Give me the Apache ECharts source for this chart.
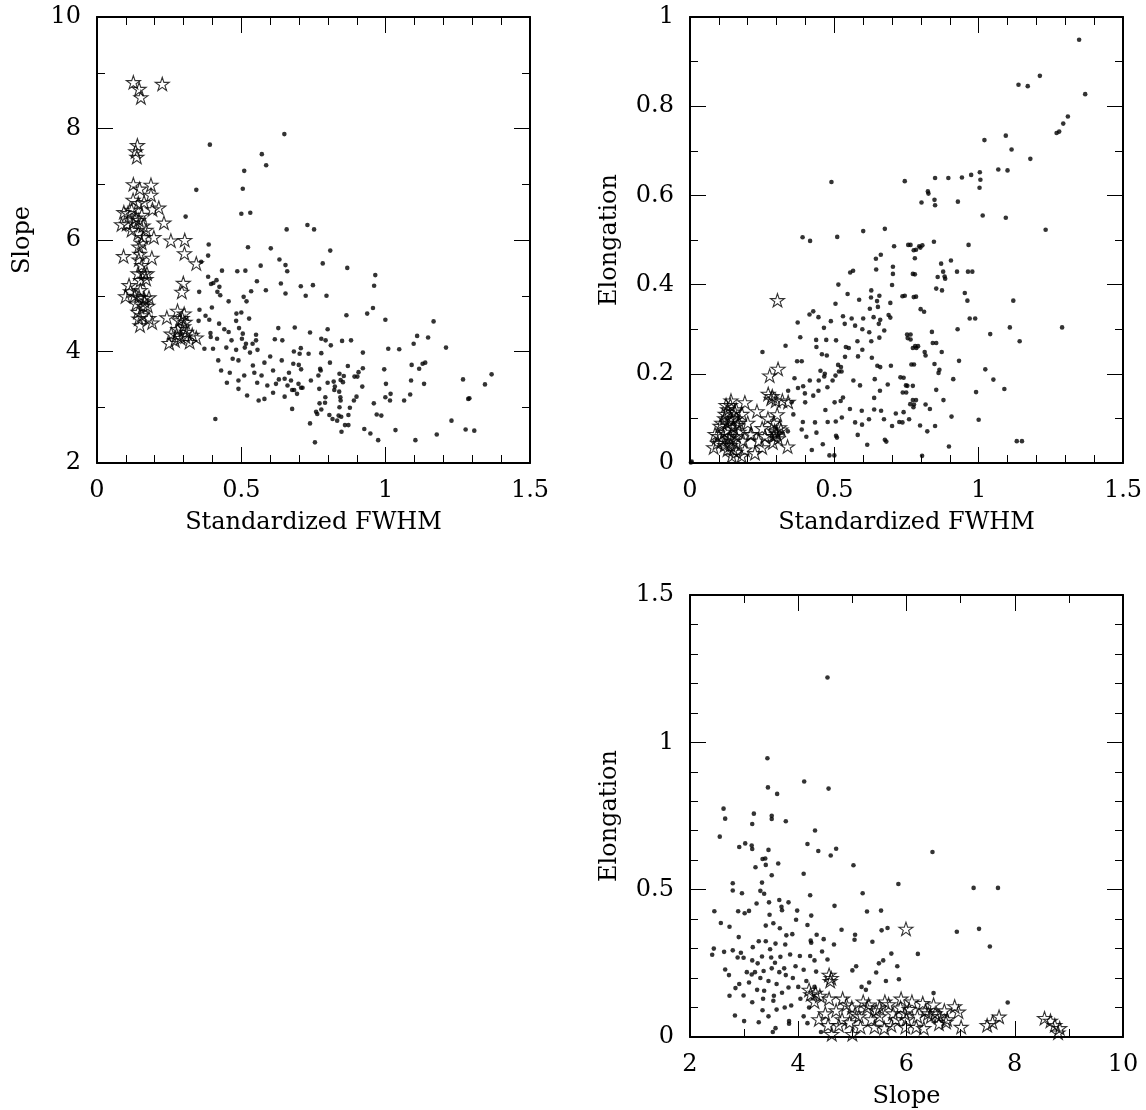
<!DOCTYPE html>
<html>
<head>
<meta charset="utf-8">
<script src="https://cdn.jsdelivr.net/npm/echarts@6/dist/echarts.min.js"></script>
<style>
html,body{margin:0;padding:0;background:#fff;}
#chart{width:1146px;height:1110px;}
</style>
</head>
<body>
<div id="chart"></div>
<script>
// ---------- DATA ----------
// Panel 1: Standardized FWHM (x) vs Slope (y)
const fwhmSlopeDots = [[0.729,6.27],[0.752,6.19],[0.808,5.81],[0.782,5.58],[0.867,5.50],[0.706,5.17],[0.748,5.19],[0.723,5.00],[0.795,5.00],[0.964,5.37],[0.960,5.18],[0.956,4.78],[0.936,4.68],[0.864,4.65],[0.999,4.57],[1.166,4.54],[0.685,4.43],[0.738,4.34],[0.799,4.40],[0.777,4.23],[0.792,4.20],[0.810,4.11],[0.849,4.19],[0.880,4.20],[1.109,4.28],[1.147,4.25],[1.097,4.14],[1.009,4.05],[1.047,4.04],[1.209,4.07],[0.682,4.00],[0.706,4.06],[0.702,3.96],[0.733,3.96],[0.777,3.97],[0.921,3.98],[0.680,3.78],[0.699,3.76],[0.707,3.68],[0.773,3.69],[0.775,3.66],[0.807,3.80],[0.869,3.74],[0.921,3.70],[0.906,3.63],[0.840,3.60],[0.855,3.56],[0.844,3.49],[0.852,3.45],[0.892,3.55],[0.902,3.55],[0.995,3.68],[1.090,3.76],[1.116,3.69],[1.128,3.78],[1.137,3.80],[0.767,3.57],[0.741,3.48],[0.672,3.48],[0.698,3.42],[0.799,3.44],[0.820,3.46],[0.824,3.37],[0.822,3.31],[0.770,3.33],[0.839,3.28],[0.676,3.31],[0.683,3.31],[0.707,3.35],[0.712,3.35],[0.693,3.24],[0.919,3.37],[1.001,3.42],[1.088,3.48],[1.133,3.42],[1.268,3.50],[1.367,3.59],[1.344,3.41],[0.899,3.19],[0.890,3.12],[0.843,3.18],[0.844,3.12],[0.791,3.18],[0.790,3.08],[0.771,3.07],[0.777,2.96],[0.759,2.92],[0.763,2.88],[0.738,2.71],[0.755,2.37],[0.676,2.97],[0.840,3.00],[0.876,2.99],[0.871,2.86],[0.805,2.86],[0.816,2.79],[0.832,2.76],[0.837,2.85],[0.846,2.83],[0.859,2.68],[0.871,2.68],[0.847,2.56],[0.926,2.61],[0.947,2.53],[0.974,2.41],[0.959,3.07],[0.969,2.87],[0.985,2.85],[0.999,3.18],[1.015,3.12],[1.017,3.24],[1.034,2.59],[1.064,3.12],[1.085,3.23],[1.103,2.41],[1.177,2.51],[1.228,2.76],[1.277,2.60],[1.307,2.58],[1.286,3.15],[1.290,3.16],
[0.391,7.71],[0.649,7.90],[0.571,7.54],[0.586,7.34],[0.510,7.24],[0.505,6.92],[0.344,6.90],[0.500,6.47],[0.531,6.49],[0.307,6.42],[0.657,6.19],[0.387,5.92],[0.523,5.87],[0.602,5.85],[0.385,5.72],[0.361,5.61],[0.632,5.65],[0.653,5.55],[0.659,5.44],[0.567,5.54],[0.433,5.45],[0.486,5.44],[0.514,5.45],[0.385,5.34],[0.403,5.23],[0.395,5.21],[0.414,5.28],[0.424,5.16],[0.354,5.07],[0.417,5.07],[0.427,5.01],[0.456,4.90],[0.554,5.26],[0.585,5.10],[0.637,5.22],[0.653,5.04],[0.534,5.08],[0.508,4.98],[0.518,4.90],[0.355,4.75],[0.376,4.64],[0.398,4.79],[0.483,4.68],[0.500,4.70],[0.527,4.59],[0.482,4.55],[0.352,4.55],[0.389,4.57],[0.423,4.50],[0.441,4.40],[0.456,4.35],[0.492,4.42],[0.505,4.32],[0.551,4.30],[0.551,4.20],[0.628,4.42],[0.393,4.33],[0.394,4.26],[0.416,4.23],[0.466,4.20],[0.502,4.23],[0.516,4.14],[0.539,4.14],[0.616,4.22],[0.642,4.20],[0.372,4.05],[0.402,4.05],[0.448,4.07],[0.482,4.03],[0.512,4.07],[0.556,4.03],
[0.41,2.79],[0.43,3.66],[0.47,3.87],[0.49,3.48],[0.52,3.21],[0.54,3.75],[0.57,3.57],[0.59,3.39],[0.53,3.98],[0.49,3.84],[0.61,3.66],[0.64,3.84],[0.65,3.51],[0.60,3.91],[0.555,3.44],[0.51,3.57],[0.45,3.44],[0.49,3.33],[0.58,3.15],[0.61,3.26],[0.65,3.19],[0.66,3.39],[0.56,3.12],[0.46,3.62],[0.42,3.84],[0.63,3.50],[0.58,3.80],[0.545,3.62],[0.62,3.42],[0.665,3.62]];
const fwhmSlopeStars = [[0.126,8.83],[0.146,8.71],[0.152,8.56],[0.226,8.80],[0.140,7.70],[0.134,7.59],[0.138,7.49],[0.126,7.00],[0.148,6.92],[0.187,6.99],[0.187,6.81],[0.125,6.72],[0.143,6.66],[0.163,6.68],[0.192,6.55],[0.214,6.58],[0.093,6.50],[0.107,6.48],[0.120,6.54],[0.085,6.28],[0.103,6.29],[0.125,6.31],[0.145,6.36],[0.160,6.26],[0.232,6.31],[0.120,6.18],[0.143,6.12],[0.170,6.18],[0.197,6.05],[0.256,5.99],[0.304,6.00],[0.303,5.76],[0.344,5.58],[0.092,5.71],[0.145,5.88],[0.148,5.75],[0.145,5.65],[0.190,5.68],[0.142,5.40],[0.163,5.40],[0.173,5.40],[0.151,5.28],[0.111,5.19],[0.099,4.99],[0.116,5.08],[0.146,4.98],[0.163,4.96],[0.180,4.97],[0.136,4.86],[0.160,4.82],[0.176,4.82],[0.142,4.71],[0.145,4.59],[0.191,4.52],[0.149,4.47],[0.299,5.23],[0.294,5.07],[0.242,4.61],[0.279,4.73],[0.302,4.68],[0.286,4.56],[0.305,4.53],[0.300,4.45],[0.257,4.32],[0.276,4.30],[0.290,4.24],[0.306,4.27],[0.321,4.17],[0.344,4.25],[0.250,4.15],
[0.155,5.55],[0.150,5.10],[0.130,5.00],[0.165,4.90],[0.170,5.30],[0.155,6.45],[0.135,6.40],[0.160,6.05],[0.280,4.40],[0.310,4.35],[0.270,4.20],[0.330,4.30],[0.295,4.60],[0.155,4.65],[0.180,4.60],[0.155,5.95]];

// Panel 2: Standardized FWHM (x) vs Elongation (y)
const fwhmElongDots = [[1.348,0.949],[1.212,0.868],[1.138,0.848],[1.170,0.845],[1.369,0.827],[1.309,0.777],[1.293,0.761],[1.279,0.743],[1.270,0.740],[1.094,0.734],[1.020,0.724],[1.114,0.703],[1.179,0.682],[1.068,0.658],[1.100,0.656],[1.004,0.652],[1.006,0.635],[0.974,0.646],[0.942,0.640],[0.895,0.639],[0.849,0.639],[0.744,0.632],[1.003,0.617],[0.824,0.609],[0.826,0.604],[0.847,0.590],[0.849,0.578],[0.802,0.584],[0.928,0.586],[1.014,0.555],[1.094,0.550],[1.232,0.523],[0.845,0.496],[0.764,0.489],[0.798,0.483],[0.805,0.488],[0.783,0.478],[0.965,0.489],[0.779,0.459],[0.904,0.454],[0.870,0.447],[0.877,0.429],[0.925,0.429],[0.963,0.429],[0.978,0.429],[0.779,0.423],[0.858,0.417],[0.882,0.418],[0.884,0.413],[0.853,0.391],[0.873,0.387],[0.952,0.381],[0.961,0.364],[1.120,0.364],[0.744,0.375],[0.783,0.373],[0.799,0.345],[0.811,0.339],[0.969,0.324],[0.988,0.324],[1.108,0.304],[1.289,0.304],[0.927,0.300],[0.838,0.294],[0.764,0.288],[0.764,0.277],[1.040,0.289],[1.142,0.273],[0.841,0.269],[0.853,0.269],[0.790,0.262],[0.784,0.258],[0.813,0.249],[0.816,0.241],[0.872,0.249],[0.932,0.229],[0.776,0.221],[0.847,0.222],[0.864,0.209],[0.861,0.202],[1.023,0.210],[0.740,0.191],[0.912,0.188],[1.051,0.187],[0.753,0.173],[0.772,0.173],[0.749,0.158],[0.853,0.164],[0.991,0.159],[1.089,0.166],[0.783,0.141],[0.878,0.141],[0.776,0.131],[0.816,0.131],[0.774,0.125],[0.831,0.121],[0.740,0.114],[0.736,0.091],[0.759,0.098],[0.906,0.104],[1.000,0.097],[0.797,0.084],[0.849,0.083],[0.822,0.071],[0.897,0.037],[1.132,0.049],[1.150,0.049],[0.804,0.016],
[0.390,0.506],[0.416,0.498],[0.510,0.507],[0.600,0.520],[0.675,0.525],[0.490,0.630],[0.707,0.486],[0.756,0.489],[0.775,0.477],[0.794,0.486],[0.661,0.467],[0.644,0.458],[0.703,0.440],[0.645,0.434],[0.565,0.431],[0.555,0.427],[0.703,0.424],[0.772,0.424],[0.514,0.400],[0.700,0.399],[0.628,0.387],[0.627,0.371],[0.656,0.375],[0.736,0.374],[0.775,0.372],[0.546,0.379],[0.586,0.366],[0.648,0.363],[0.694,0.359],[0.504,0.357],[0.623,0.346],[0.651,0.350],[0.688,0.332],[0.694,0.326],[0.600,0.324],[0.636,0.327],[0.659,0.321],[0.597,0.300],[0.654,0.312],[0.414,0.333],[0.427,0.340],[0.445,0.327],[0.530,0.329],[0.560,0.324],[0.572,0.308],[0.373,0.315],[0.488,0.318],[0.536,0.312],[0.464,0.303],[0.621,0.293],[0.673,0.297],[0.382,0.282],[0.437,0.276],[0.472,0.276],[0.506,0.275],[0.580,0.273],[0.628,0.273],[0.656,0.281],[0.752,0.288],[0.754,0.280],[0.438,0.260],[0.540,0.260],[0.550,0.258],[0.597,0.254],[0.772,0.258],[0.780,0.262],[0.331,0.263],[0.251,0.249],[0.457,0.244],[0.474,0.241],[0.537,0.238],[0.582,0.239],[0.630,0.236],[0.649,0.218],[0.659,0.215],[0.696,0.218],[0.767,0.221],[0.371,0.228],[0.387,0.228],[0.513,0.220],[0.523,0.215],[0.516,0.205],[0.525,0.205],[0.504,0.196],[0.452,0.207],[0.467,0.200],[0.465,0.194],[0.446,0.185],[0.362,0.190],[0.415,0.185],[0.374,0.168],[0.392,0.172],[0.398,0.156],[0.445,0.162],[0.476,0.170],[0.494,0.185],[0.566,0.185],[0.589,0.174],[0.640,0.188],[0.685,0.176],[0.658,0.162],[0.729,0.192],[0.748,0.174],[0.737,0.158],[0.772,0.141],[0.340,0.162],[0.352,0.136],[0.399,0.136],[0.427,0.151],[0.469,0.119],[0.501,0.136],[0.522,0.139],[0.530,0.147],[0.554,0.121],[0.595,0.117],[0.638,0.146],[0.638,0.120],[0.662,0.117],[0.713,0.111],[0.763,0.132],[0.358,0.109],[0.391,0.092],[0.433,0.091],[0.477,0.092],[0.505,0.093],[0.526,0.102],[0.572,0.091],[0.596,0.086],[0.620,0.098],[0.672,0.098],[0.700,0.083],[0.725,0.092],[0.339,0.071],[0.387,0.075],[0.403,0.059],[0.438,0.068],[0.460,0.042],[0.506,0.061],[0.509,0.057],[0.581,0.063],[0.614,0.041],[0.675,0.052],[0.680,0.048],[0.422,0.029],[0.483,0.017],[0.500,0.017],[0.006,0.003],[0.003,0.001]];
const fwhmElongStars = [[0.303,0.365],[0.276,0.196],[0.305,0.211],[0.271,0.155],[0.281,0.144],[0.297,0.140],[0.340,0.137],[0.302,0.109],[0.232,0.116],[0.209,0.064],[0.225,0.022],[0.250,0.078],[0.238,0.050],[0.293,0.072],[0.298,0.068],[0.287,0.046],[0.338,0.037],[0.142,0.140],[0.190,0.136],[0.122,0.110],[0.104,0.083],[0.087,0.065],[0.082,0.035],[0.145,0.016],[0.179,0.016],[0.213,0.065],[0.184,0.050],
[0.110,0.050],[0.120,0.070],[0.130,0.090],[0.140,0.060],[0.150,0.080],[0.130,0.120],[0.160,0.100],[0.140,0.100],[0.120,0.040],[0.150,0.050],[0.170,0.070],[0.160,0.120],[0.130,0.030],[0.100,0.060],[0.140,0.130],[0.150,0.030],[0.160,0.060],[0.120,0.100],[0.170,0.090],[0.140,0.040],[0.130,0.075],[0.155,0.115],[0.135,0.055],[0.165,0.085],[0.110,0.090],[0.180,0.110],[0.145,0.095],[0.125,0.130],[0.200,0.090],[0.095,0.045],[0.190,0.030],[0.160,0.025],[0.300,0.065],[0.310,0.080],[0.290,0.090],[0.305,0.055],[0.260,0.060],[0.270,0.100],[0.320,0.140],[0.285,0.150],[0.250,0.035],[0.315,0.075],[0.290,0.060]];

// Panel 3: Slope (x) vs Elongation (y)
const slopeElongDots = [[4.54,1.220],[3.43,0.946],[3.44,0.847],[3.61,0.825],[4.11,0.867],[4.56,0.843],[2.62,0.775],[2.65,0.741],[3.18,0.758],[3.15,0.723],[3.51,0.751],[3.51,0.740],[3.77,0.732],[2.55,0.680],[4.31,0.701],[2.91,0.645],[3.02,0.657],[3.14,0.650],[3.15,0.638],[3.45,0.635],[4.17,0.655],[4.37,0.631],[4.70,0.639],[4.60,0.616],[3.34,0.604],[3.39,0.606],[3.40,0.584],[3.63,0.589],[3.21,0.576],[3.51,0.549],[4.10,0.554],[5.02,0.583],[6.48,0.628],[3.33,0.524],[2.79,0.522],[2.79,0.497],[2.96,0.488],[3.30,0.496],[3.37,0.486],[5.85,0.519],[7.24,0.506],[7.69,0.506],[5.19,0.488],[4.22,0.481],[2.45,0.427],[2.89,0.427],[3.01,0.420],[3.09,0.428],[3.23,0.453],[3.46,0.457],[3.65,0.465],[3.69,0.442],[3.70,0.430],[3.82,0.457],[3.98,0.429],[4.24,0.412],[4.67,0.445],[5.27,0.426],[5.53,0.429],[2.57,0.387],[2.73,0.374],[2.90,0.339],[3.40,0.378],[3.54,0.386],[3.66,0.369],[3.47,0.415],[3.96,0.398],[4.17,0.380],[3.89,0.349],[3.78,0.345],[3.40,0.325],[3.27,0.325],[3.58,0.317],[3.16,0.305],[3.76,0.314],[4.23,0.327],[4.24,0.320],[4.34,0.347],[4.47,0.332],[4.66,0.314],[4.80,0.364],[5.05,0.347],[5.04,0.330],[5.37,0.323],[5.54,0.362],[5.65,0.370],[6.93,0.357],[7.34,0.367],[7.54,0.307],[6.21,0.282],[5.72,0.283],[2.41,0.279],[2.44,0.300],[2.63,0.289],[2.79,0.294],[2.88,0.270],[2.94,0.286],[2.99,0.269],[3.33,0.273],[3.48,0.298],[3.67,0.272],[4.03,0.275],[4.22,0.275],[4.30,0.260],[4.44,0.290],[4.54,0.263],[2.65,0.229],[2.72,0.210],[2.84,0.166],[2.73,0.140],[2.99,0.141],[2.91,0.180],[3.09,0.185],[3.14,0.212],[3.20,0.220],[3.36,0.224],[3.51,0.233],[3.57,0.252],[3.74,0.233],[3.77,0.210],[3.82,0.168],[4.10,0.228],[4.33,0.222],[3.24,0.160],[3.37,0.157],[3.54,0.123],[3.15,0.118],[3.34,0.091],[3.60,0.093],[3.87,0.107],[4.04,0.130],[3.83,0.054],[3.83,0.045],[3.00,0.054],[2.83,0.073],[3.27,0.050],[3.53,0.017],[3.58,0.030],[4.10,0.070],[4.17,0.047],[4.42,0.017],[5.00,0.226],[5.07,0.240],[5.31,0.185],[5.17,0.170],[5.25,0.160],[5.44,0.219],[5.49,0.250],[5.57,0.260],[5.62,0.190],[5.86,0.196],[5.83,0.240],[6.50,0.149],[7.87,0.117],
[3.30,0.200],[3.45,0.190],[3.60,0.180],[3.70,0.150],[3.90,0.200],[4.00,0.170],[3.50,0.270],[3.65,0.220],[3.95,0.240],[4.15,0.190],[3.25,0.250],[3.85,0.280],[3.35,0.130],[3.75,0.100],[4.20,0.100],[3.45,0.070],[3.15,0.260],[4.30,0.170],[3.55,0.140],[3.05,0.220]];
const slopeElongStars = [[5.99,0.367],[4.57,0.211],[4.61,0.200],[4.59,0.190],[6.89,0.104],[6.96,0.086],[7.01,0.034],[7.49,0.040],[7.59,0.050],[7.71,0.069],[8.55,0.064],[8.66,0.055],[8.74,0.040],[8.83,0.030],[8.80,0.015],[4.23,0.145],[4.32,0.150],[4.57,0.130],[4.82,0.130],[4.89,0.110],[4.99,0.100],[5.27,0.100],[5.44,0.090],[5.67,0.111],[5.89,0.100],[6.05,0.095],[6.30,0.115],[6.53,0.080],[6.73,0.051],[6.40,0.080],[6.18,0.034],[6.32,0.030],[5.98,0.034],[5.72,0.040],[5.59,0.030],[5.41,0.034],[5.15,0.034],[5.00,0.010],[4.62,0.010],[4.75,0.040],[4.38,0.060],[4.50,0.080],[4.81,0.060],[5.12,0.070],[5.50,0.070],[5.75,0.080],[5.97,0.080],[6.45,0.070],[6.60,0.045],
[4.30,0.120],[4.20,0.160],[4.40,0.140],[4.70,0.090],[5.05,0.080],[5.20,0.120],[5.35,0.060],[5.60,0.120],[5.80,0.060],[6.10,0.120],[6.20,0.070],[6.35,0.090],[6.50,0.110],[6.60,0.070],[6.70,0.090],[6.75,0.060],[5.90,0.130],[5.50,0.100],[4.95,0.050],[4.55,0.040],[5.30,0.110],[6.00,0.060]];

// Axis ranges / ticks
const fwhmRange = [0, 1.5], fwhmStep = 0.5;
const slopeRangeY = [2, 10], slopeStepY = 2;
const elongRange1 = [0, 1], elongStep1 = 0.2;
const slopeRangeX = [2, 10], slopeStepX = 2;
const elongRange2 = [0, 1.5], elongStep2 = 0.5;

// ---------- CHART ----------
const FONT = 'DejaVu Serif';
const FS = 24;
const STAR = 'path://M50,0 L61.23,34.55 L97.55,34.55 L68.17,55.9 L79.39,90.45 L50,69.1 L20.61,90.45 L31.83,55.9 L2.45,34.55 L38.77,34.55 Z';

function axis(kind, g, range, step, minorN, pos, name, nameGap) {
  const labelShow = (pos === 'bottom' || pos === 'left');
  return {
    type: 'value', gridIndex: g, position: pos,
    min: range[0], max: range[1], interval: step,
    axisLine: { show: true, onZero: false, lineStyle: { color: '#000', width: 2 } },
    axisTick: { show: true, inside: true, length: 16, lineStyle: { color: '#000', width: 1 } },
    minorTick: { show: true, splitNumber: minorN, length: 8, lineStyle: { color: '#000', width: 1 } },
    splitLine: { show: false }, minorSplitLine: { show: false },
    axisLabel: { show: labelShow, margin: kind === 'x' ? 16 : 16, color: '#000', fontFamily: FONT, fontSize: FS },
    name: labelShow ? name : '', nameLocation: 'middle', nameGap: nameGap,
    nameTextStyle: { color: '#000', fontFamily: FONT, fontSize: FS },
    silent: true
  };
}

const grids = [
  { left: 97, top: 17, width: 433, height: 446 },
  { left: 690, top: 17, width: 433, height: 446 },
  { left: 690, top: 595, width: 433, height: 446 }
];

const xAxes = [
  axis('x', 0, fwhmRange, fwhmStep, 5, 'bottom', 'Standardized FWHM', 48),
  axis('x', 0, fwhmRange, fwhmStep, 5, 'top', '', 0),
  axis('x', 1, fwhmRange, fwhmStep, 5, 'bottom', 'Standardized FWHM', 48),
  axis('x', 1, fwhmRange, fwhmStep, 5, 'top', '', 0),
  axis('x', 2, slopeRangeX, slopeStepX, 2, 'bottom', 'Slope', 48),
  axis('x', 2, slopeRangeX, slopeStepX, 2, 'top', '', 0)
];
const yAxes = [
  axis('y', 0, slopeRangeY, slopeStepY, 2, 'left', 'Slope', 62),
  axis('y', 0, slopeRangeY, slopeStepY, 2, 'right', '', 0),
  axis('y', 1, elongRange1, elongStep1, 2, 'left', 'Elongation', 68),
  axis('y', 1, elongRange1, elongStep1, 2, 'right', '', 0),
  axis('y', 2, elongRange2, elongStep2, 5, 'left', 'Elongation', 68),
  axis('y', 2, elongRange2, elongStep2, 5, 'right', '', 0)
];

function dots(data, xi, yi) {
  return { type: 'scatter', xAxisIndex: xi, yAxisIndex: yi, data: data,
    symbol: 'circle', symbolSize: 4.6, itemStyle: { color: '#000' }, silent: true, z: 2 };
}
function stars(data, xi, yi) {
  return { type: 'scatter', xAxisIndex: xi, yAxisIndex: yi, data: data,
    symbol: STAR, symbolSize: 14, symbolKeepAspect: true,
    itemStyle: { color: 'rgba(255,255,255,0)', borderColor: '#000', borderWidth: 1.1 }, silent: true, z: 3 };
}

const chart = echarts.init(document.getElementById('chart'), null, { renderer: 'canvas' });
chart.setOption({
  animation: false,
  backgroundColor: '#fff',
  grid: grids,
  xAxis: xAxes,
  yAxis: yAxes,
  series: [
    dots(fwhmSlopeDots, 0, 0), stars(fwhmSlopeStars, 0, 0),
    dots(fwhmElongDots, 2, 2), stars(fwhmElongStars, 2, 2),
    dots(slopeElongDots, 4, 4), stars(slopeElongStars, 4, 4)
  ]
});
</script>
</body>
</html>
